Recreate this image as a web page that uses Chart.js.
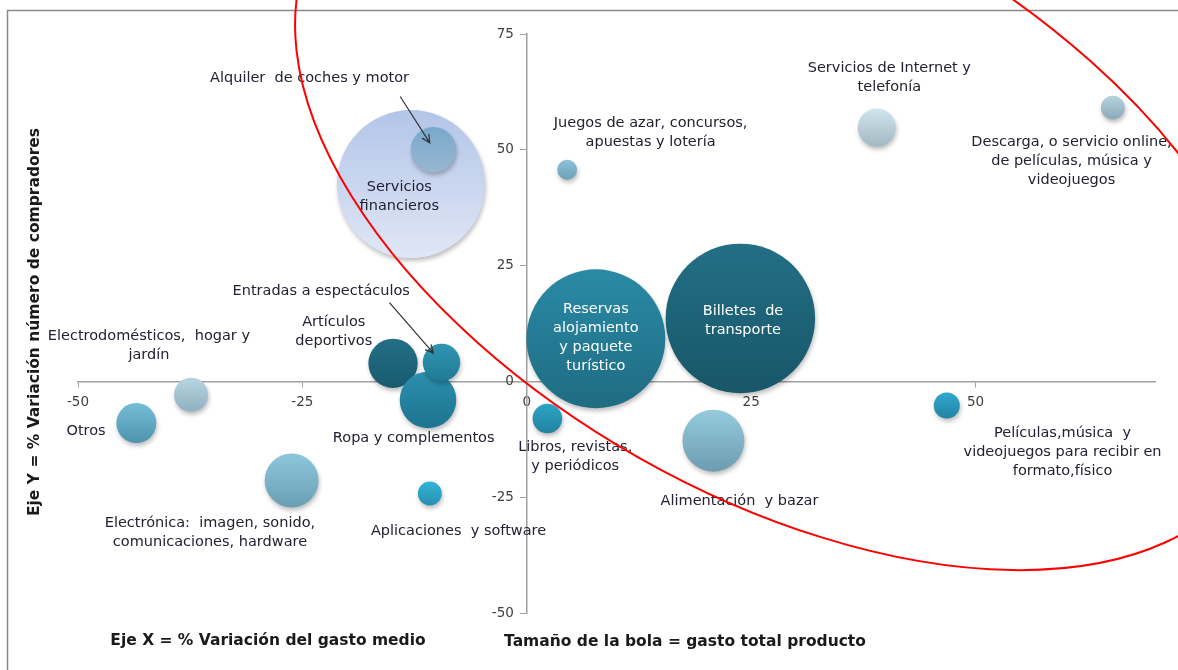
<!DOCTYPE html>
<html>
<head>
<meta charset="utf-8">
<script src="https://cdn.jsdelivr.net/npm/chart.js@4"></script>
<style>
  html, body { margin: 0; padding: 0; background: #fff; }
  canvas { display: block; }
</style>
</head>
<body>
<canvas id="chart" width="1178" height="670"></canvas>
<script>
// categories (line breaks as in the picture)
const productos = [
  'Servicios\nfinancieros',
  'Alquiler  de coches y motor',
  'Juegos de azar, concursos,\napuestas y lotería',
  'Servicios de Internet y\ntelefonía',
  'Descarga, o servicio online,\nde películas, música y\nvideojuegos',
  'Reservas\nalojamiento\ny paquete\nturístico',
  'Billetes  de\ntransporte',
  'Electrodomésticos,  hogar y\njardín',
  'Otros',
  'Electrónica:  imagen, sonido,\ncomunicaciones, hardware',
  'Artículos\ndeportivos',
  'Ropa y complementos',
  'Entradas a espectáculos',
  'Aplicaciones  y software',
  'Libros, revistas,\ny periódicos',
  'Alimentación  y bazar',
  'Películas,música  y\nvideojuegos para recibir en\nformato,físico'
];
// Eje X = % variación del gasto medio
const varGastoMedio = [-12.9, -10.4, 4.5, 39.0, 65.3, 7.7, 23.8, -37.4, -43.5, -26.2, -14.9, -11.0, -9.5, -10.8, 2.3, 20.8, 46.8];
// Eje Y = % variación número de compradores
const varCompradores = [42.6, 50.0, 45.7, 54.8, 59.1, 9.2, 13.6, -2.9, -9.0, -21.4, 3.9, -4.0, 4.1, -24.2, -8.0, -12.8, -5.2];
// tamaño de la bola = gasto total producto (relativo)
const gastoTotal = [100, 9.4, 1.8, 6.6, 2.6, 88, 102, 5.3, 7.3, 13.3, 11.1, 14.6, 6.4, 2.6, 4.0, 17.5, 3.1];

const xTicks = [-50, -25, 0, 25, 50];
const yTicks = [-50, -25, 0, 25, 50, 75];

// label anchors, in axis units
const labelX = [-14.2, -24.2, 13.8, 40.4, 60.7, 7.7, 24.1, -42.1, -49.1, -35.3, -21.5, -12.6, -22.9, -7.6, 5.4, 23.7, 59.7];
const labelY = [39.8, 65.4, 53.7, 65.6, 47.6, 9.5, 13.0, 7.6, -10.8, -32.7, 10.8, -12.3, 19.5, -32.3, -16.2, -25.8, -15.4];
const labelWhite = [5, 6];

// arrows [fromX, fromY, toX, toY] in axis units
const flechas = [
  [-14.1, 61.5, -10.8, 51.5],
  [-15.3, 17.0, -10.4, 6.1]
];

const topColors = ['#b3c5e8', '#78a9cc', '#8cc2d8', '#d0e5ed', '#b6d3df', '#2a8aa6', '#236f86', '#b7d5e1', '#74bdd7', '#8dc7dc', '#236f86', '#2a90ae', '#2f96b4', '#34b4d7', '#2ea4c5', '#95cadd', '#30a9cd'];
const bottomColors = ['#e0e7f6', '#98b7d0', '#6f9fb5', '#a2b8c2', '#8aa9b8', '#1f6c82', '#185668', '#8fb0bf', '#4f93ad', '#6a9fb3', '#185b6e', '#1e7490', '#217a93', '#2590b0', '#2182a0', '#6d9caf', '#2383a3'];

const SIZE_K = 7.4;
const FONT = '"DejaVu Sans", Verdana, sans-serif';

const decor = {
  id: 'decor',
  beforeDraw(chart) {
    const c = chart.ctx;
    c.save();
    c.strokeStyle = '#8a8a8a';
    c.lineWidth = 1.5;
    c.strokeRect(7.5, 10.5, 1300, 800);
    c.restore();
  },
  beforeDatasetsDraw(chart) {
    const c = chart.ctx;
    c.save();
    c.shadowColor = 'rgba(0,0,0,0.25)';
    c.shadowBlur = 4;
    c.shadowOffsetX = 1;
    c.shadowOffsetY = 3;
  },
  afterDatasetsDraw(chart) {
    const c = chart.ctx;
    c.restore();
    const xs = chart.scales.x, ys = chart.scales.y;

    // bubble labels
    c.save();
    c.font = '14.5px ' + FONT;
    c.textAlign = 'center';
    c.textBaseline = 'middle';
    productos.forEach((p, i) => {
      const lines = p.split('\n');
      const cx = xs.getPixelForValue(labelX[i]);
      const cy = ys.getPixelForValue(labelY[i]);
      const lh = 19;
      c.fillStyle = labelWhite.includes(i) ? '#ffffff' : '#222233';
      lines.forEach((l, k) => {
        c.fillText(l, cx, cy + (k - (lines.length - 1) / 2) * lh);
      });
    });
    c.restore();

    // arrows
    c.save();
    c.strokeStyle = '#333';
    c.lineWidth = 1.2;
    flechas.forEach(f => {
      const x1 = xs.getPixelForValue(f[0]), y1 = ys.getPixelForValue(f[1]);
      const x2 = xs.getPixelForValue(f[2]), y2 = ys.getPixelForValue(f[3]);
      const a = Math.atan2(y2 - y1, x2 - x1);
      c.beginPath();
      c.moveTo(x1, y1);
      c.lineTo(x2, y2);
      c.moveTo(x2 - 9 * Math.cos(a - 0.45), y2 - 9 * Math.sin(a - 0.45));
      c.lineTo(x2, y2);
      c.lineTo(x2 - 9 * Math.cos(a + 0.45), y2 - 9 * Math.sin(a + 0.45));
      c.stroke();
    });
    c.restore();

    // axis titles
    c.save();
    c.font = 'bold 15.5px ' + FONT;
    c.fillStyle = '#1a1a1a';
    c.textAlign = 'center';
    c.textBaseline = 'middle';
    c.fillText('Eje X = % Variación del gasto medio', 268, 641);
    c.fillText('Tamaño de la bola = gasto total producto', 685, 642);
    c.translate(35, 322);
    c.rotate(-Math.PI / 2);
    c.fillText('Eje Y = % Variación número de compradores', 0, 0);
    c.restore();

    // red ellipse
    c.save();
    c.strokeStyle = '#ff0000';
    c.lineWidth = 2;
    c.beginPath();
    c.ellipse(xs.getPixelForValue(28.7), ys.getPixelForValue(38.7), 537, 294, 0.515, 0, Math.PI * 2);
    c.stroke();
    c.restore();
  }
};

const axisColor = '#a0a0a0';
const tickFont = { family: FONT, size: 13.5 };

new Chart(document.getElementById('chart'), {
  type: 'bubble',
  data: {
    datasets: [{
      data: productos.map((p, i) => ({ x: varGastoMedio[i], y: varCompradores[i], r: SIZE_K * Math.sqrt(gastoTotal[i]) })),
      borderWidth: 0,
      clip: false,
      backgroundColor: ctx => {
        const i = ctx.dataIndex;
        if (i === undefined || !ctx.raw) return topColors[0];
        const ys = ctx.chart.scales.y;
        const cy = ys ? ys.getPixelForValue(ctx.raw.y) : NaN;
        const r = ctx.raw.r;
        if (!Number.isFinite(cy) || !Number.isFinite(r)) return topColors[i];
        const g = ctx.chart.ctx.createLinearGradient(0, cy - r, 0, cy + r);
        g.addColorStop(0, topColors[i]);
        g.addColorStop(1, bottomColors[i]);
        return g;
      }
    }]
  },
  options: {
    responsive: false,
    animation: false,
    events: [],
    layout: { autoPadding: false, padding: { left: 78, right: 23, top: 34, bottom: 57 } },
    plugins: { legend: { display: false }, tooltip: { enabled: false } },
    scales: {
      x: {
        type: 'linear',
        position: { y: 0 },
        min: -50,
        max: 70,
        afterBuildTicks: s => { s.ticks = xTicks.map(v => ({ value: v })); },
        ticks: { color: '#404040', font: tickFont, padding: 8, maxRotation: 0 },
        grid: { drawOnChartArea: false, tickLength: 5, color: axisColor },
        border: { color: axisColor, width: 1.5 }
      },
      y: {
        type: 'linear',
        position: { x: 0 },
        min: -50,
        max: 75,
        afterBuildTicks: s => { s.ticks = yTicks.map(v => ({ value: v })); },
        // axis placed at x = 0 ignores tick padding, so keep labels off the line
        ticks: { color: '#404040', font: tickFont, callback: v => v + '   ' },
        grid: { drawOnChartArea: false, tickLength: 6, color: axisColor },
        border: { color: axisColor, width: 1.5 }
      }
    }
  },
  plugins: [decor]
});
</script>
</body>
</html>
